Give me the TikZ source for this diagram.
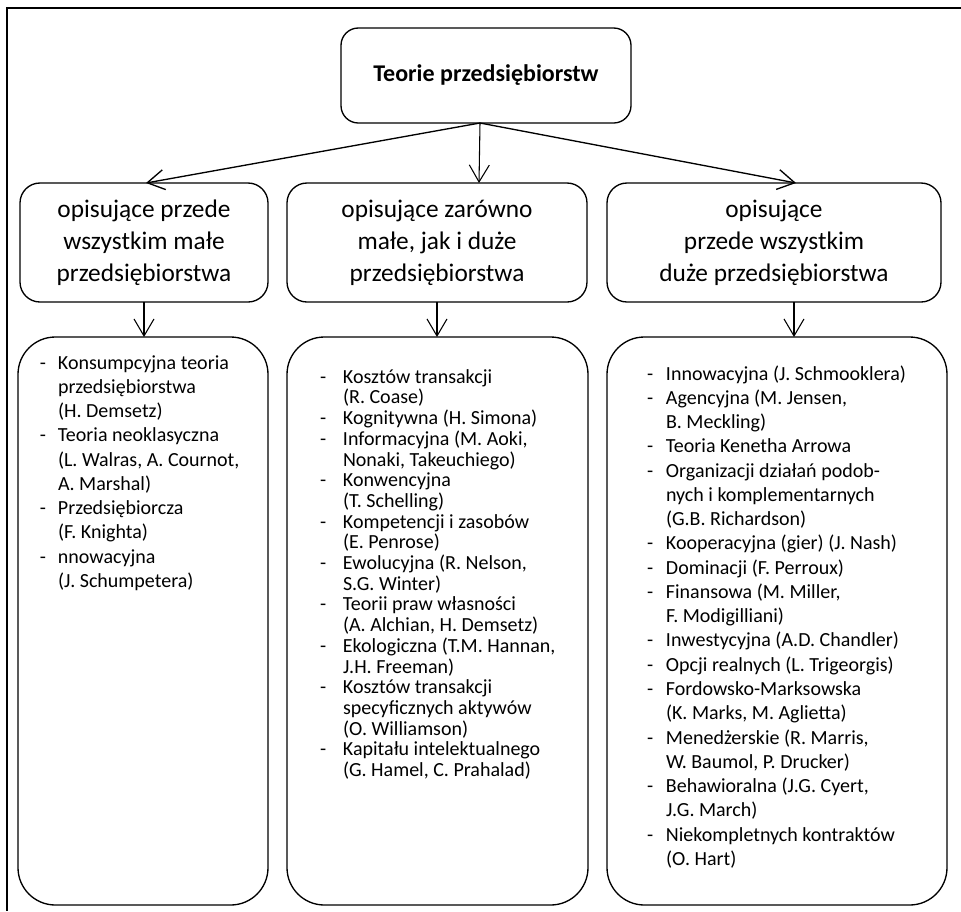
\documentclass[tikz,border=0pt]{standalone}
\usepackage{fontspec}
\setmainfont{Carlito}
\usetikzlibrary{arrows.meta,calc}

% lista z myślnikami: szerokość wcięcia, odstęp wierszy, treść
\newcommand{\lista}[3]{\fontsize{15pt}{#2}\selectfont\begin{tabular}[t]{@{}p{#1}@{}l@{}}#3\end{tabular}}

\tikzset{
  ramka/.style={draw,line width=1pt,rounded corners=#1,inner sep=0pt,outer sep=0pt},
  ramka/.default=13pt,
  glowny/.style={ramka=13pt,minimum width=217.5pt,minimum height=71.25pt,
    font=\bfseries\fontsize{18pt}{22pt}\selectfont},
  grupa/.style={ramka=15pt,minimum height=89.25pt,align=center,
    font=\fontsize{19pt}{24pt}\selectfont},
  spis/.style={ramka=28pt,minimum height=426pt},
  tekst/.style={anchor=base west,inner sep=0pt,outer sep=0pt},
  strz/.style={-{Straight Barb[length=12.75pt,width=15pt]},line width=0.8pt}
}

\begin{document}
\begin{tikzpicture}[x=0.75pt,y=-0.75pt]
	\useasboundingbox (0,0) rectangle (961,911);

	% Рамка
	\draw[line width=1.5pt] (961,8) -- (7,8) -- (7,911);

	% Верх
	\node[glowny] (teorie) at (486,75.5) {Teorie przedsiębiorstw};

	% Средний ряд
	\node[grupa,minimum width=186pt] (male) at (144,242.5) {opisujące przede\\wszystkim małe\\przedsiębiorstwa};
	\node[grupa,minimum width=225pt] (obie) at (437,242.5) {opisujące zarówno\\małe, jak i duże\\przedsiębiorstwa};
	\node[grupa,minimum width=250.5pt] (duze) at (774,242.5) {opisujące\\przede wszystkim\\duże przedsiębiorstwa};

	% Нижний ряд
	\node[spis,minimum width=187.5pt] (listmale) at (143,621) {};
	\node[spis,minimum width=225.75pt] (listobie) at (437.5,621) {};
	\node[spis,minimum width=255pt] (listduze) at (777,621) {};

	\node[tekst] (tmale) at (40,369) {\lista{13.5pt}{18.2pt}{
		- & Konsumpcyjna teoria\\
		  & przedsiębiorstwa\\
		  & (H. Demsetz)\\
		- & Teoria neoklasyczna\\
		  & (L. Walras, A. Cournot,\\
		  & A. Marshal)\\
		- & Przedsiębiorcza\\
		  & (F. Knighta)\\
		- & nnowacyjna\\
		  & (J. Schumpetera)}};

	\node[tekst] (tobie) at (320,383) {\lista{17.25pt}{15.4pt}{
		- & Kosztów transakcji\\
		  & (R. Coase)\\
		- & Kognitywna (H. Simona)\\
		- & Informacyjna (M. Aoki,\\
		  & Nonaki, Takeuchiego)\\
		- & Konwencyjna\\
		  & (T. Schelling)\\
		- & Kompetencji i zasobów\\
		  & (E. Penrose)\\
		- & Ewolucyjna (R. Nelson,\\
		  & S.G. Winter)\\
		- & Teorii praw własności\\
		  & (A. Alchian, H. Demsetz)\\
		- & Ekologiczna (T.M. Hannan,\\
		  & J.H. Freeman)\\
		- & Kosztów transakcji\\
		  & specyficznych aktywów\\
		  & (O. Williamson)\\
		- & Kapitału intelektualnego\\
		  & (G. Hamel, C. Prahalad)}};

	\node[tekst] (tduze) at (647,380) {\lista{14.25pt}{18.2pt}{
		- & Innowacyjna (J. Schmooklera)\\
		- & Agencyjna (M. Jensen,\\
		  & B. Meckling)\\
		- & Teoria Kenetha Arrowa\\
		- & Organizacji działań podob-\\
		  & nych i komplementarnych\\
		  & (G.B. Richardson)\\
		- & Kooperacyjna (gier) (J. Nash)\\
		- & Dominacji (F. Perroux)\\
		- & Finansowa (M. Miller,\\
		  & F. Modigilliani)\\
		- & Inwestycyjna (A.D. Chandler)\\
		- & Opcji realnych (L. Trigeorgis)\\
		- & Fordowsko-Marksowska\\
		  & (K. Marks, M. Aglietta)\\
		- & Menedżerskie (R. Marris,\\
		  & W. Baumol, P. Drucker)\\
		- & Behawioralna (J.G. Cyert,\\
		  & J.G. March)\\
		- & Niekompletnych kontraktów\\
		  & (O. Hart)}};

	% Стрелки
	\coordinate (rozg) at ($(teorie.south)+(-6,0)$);
	\draw[strz,line width=1pt] (rozg) -- ($(male.north)+(2,0)$);
	\draw[strz] (rozg) -- ($(obie.north)+(42,0)$);
	\draw[strz,line width=1pt] (rozg) -- ($(duze.north)+(22,0)$);

	\coordinate (zduze) at ($(duze.south)+(20,0)$);
	\draw[strz] (male.south) -- (male.south |- listmale.north);
	\draw[strz] (obie.south) -- (obie.south |- listobie.north);
	\draw[strz] (zduze) -- (zduze |- listduze.north);
\end{tikzpicture}
\end{document}
